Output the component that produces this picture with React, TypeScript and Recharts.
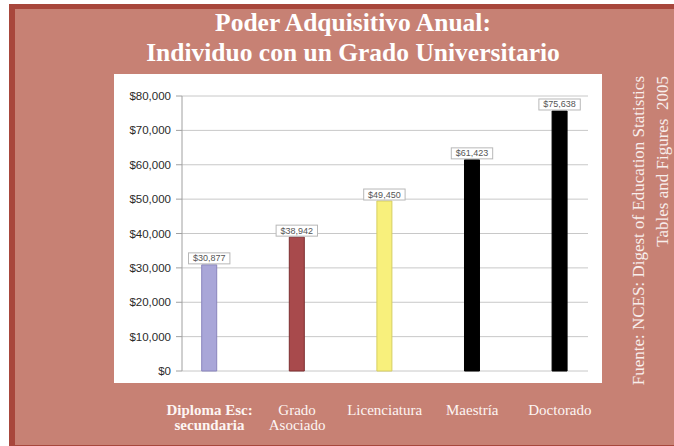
import React from 'react';
import { BarChart, Bar, XAxis, YAxis, CartesianGrid, Cell, LabelList } from 'recharts';

const categories = ['Diploma Esc: secundaria', 'Grado Asociado', 'Licenciatura', 'Maestría', 'Doctorado'];
const categoryLines = [['Diploma Esc:', 'secundaria'], ['Grado', 'Asociado'], ['Licenciatura'], ['Maestría'], ['Doctorado']];
const earnings = [30877, 38942, 49450, 61423, 75638];
const yTicks = [0, 10000, 20000, 30000, 40000, 50000, 60000, 70000, 80000];
const barFills = ['#a9a6d8', '#a84a4c', '#f8f07c', '#000000', '#000000'];
const barEdges = ['#8985bd', '#7c2e30', '#d6ce62', '#000000', '#000000'];

const titleLines = ['Poder Adquisitivo Anual:', 'Individuo con un Grado Universitario'];
const sourceLines = ['Fuente: NCES: Digest of Education Statistics', 'Tables and Figures  2005'];

const data = categories.map((name, i) => ({ idx: i, name, value: earnings[i] }));

const SERIF = "'Liberation Serif', 'Times New Roman', serif";
const SANS = "'Liberation Sans', Arial, sans-serif";
const fmt = (v: number) => '$' + v.toLocaleString('en-US');

function CategoryTick({ x, y, payload }: any) {
  const i = payload.value;
  const lines = categoryLines[i] || [];
  return (
    <g>
      {lines.map((l, k) => (
        <text key={k} x={x} y={y + 44 + k * 15} textAnchor="middle"
          fill="#fdf5f3" fontFamily={SERIF} fontSize={15} fontWeight={i === 0 ? 'bold' : 'normal'}>
          {l}
        </text>
      ))}
    </g>
  );
}

function ValueLabel({ x, y, width, value }: any) {
  const txt = fmt(value);
  const w = txt.length * 5.2 + 5;
  const cx = x + width / 2;
  return (
    <g>
      <rect x={cx - w / 2} y={y - 12} width={w} height={11} fill="#fff" stroke="#b8b8b8" strokeWidth={1} />
      <text x={cx} y={y - 3.5} textAnchor="middle" fontFamily={SANS} fontSize={9} fill="#555">{txt}</text>
    </g>
  );
}

export default function App() {
  return (
    <div style={{ position: 'absolute', left: 0, top: 0, width: 674, height: 446, background: '#fff', overflow: 'hidden' }}>
      <svg width={674} height={446} style={{ position: 'absolute', left: 0, top: 0 }}>
        <rect x={9} y={4} width={665} height={442} fill="#a8473c" />
        <rect x={15} y={9} width={659} height={436} fill="#c78174" />
        <rect x={114} y={74} width={488} height={309} fill="#ffffff" />
        {titleLines.map((t, k) => (
          <text key={k} x={353} y={31 + k * 30} textAnchor="middle" fill="#ffffff"
            fontFamily={SERIF} fontSize={25.5} fontWeight="bold">{t}</text>
        ))}
        {sourceLines.map((t, k) => (
          <text key={k} transform={`translate(${644 + k * 24},76) rotate(-90)`} textAnchor="end"
            fill="#f8eeec" fontFamily={SERIF} fontSize={17} xmlSpace="preserve">{t}</text>
        ))}
      </svg>
      <div style={{ position: 'absolute', left: 0, top: 0 }}>
        <BarChart width={674} height={446} data={data} margin={{ top: 96, right: 86, bottom: 15, left: 122 }}>
          <CartesianGrid horizontal vertical={false} stroke="#c8c8c8" />
          <XAxis dataKey="idx" type="number" domain={[-0.314, 4.321]} ticks={[0, 1, 2, 3, 4]}
            axisLine={false} tickLine={false} tickSize={0} tickMargin={0} height={60}
            interval={0} tick={<CategoryTick />} allowDataOverflow />
          <YAxis domain={[0, 80000]} ticks={yTicks} tickFormatter={fmt} width={60}
            axisLine={{ stroke: '#a0a0a0' }} tickLine={{ stroke: '#a0a0a0' }} tickSize={6} tickMargin={5}
            tick={{ fontSize: 11.5, fill: '#2a2a2a', fontFamily: SANS }} />
          <Bar dataKey="value" barSize={15} isAnimationActive={false}>
            {data.map((d, i) => (
              <Cell key={d.name} fill={barFills[i]} stroke={barEdges[i]} strokeWidth={1} />
            ))}
            <LabelList dataKey="value" content={<ValueLabel />} />
          </Bar>
        </BarChart>
      </div>
    </div>
  );
}
